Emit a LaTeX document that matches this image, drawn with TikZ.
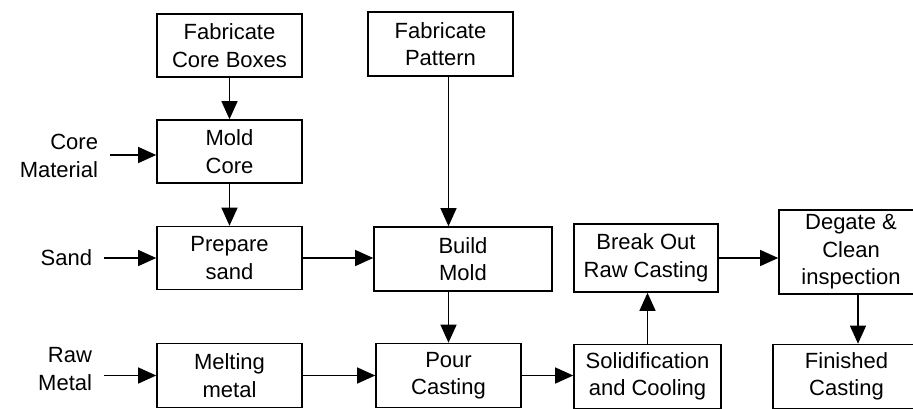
\documentclass[tikz,border=0pt]{standalone}
\usepackage{fontspec}
\setmainfont{Liberation Sans}
\usetikzlibrary{arrows.meta,positioning}
\tikzstyle{box}=[draw,line width=1.6pt,align=center,inner sep=0pt,
  minimum width=145pt,minimum height=63pt,font=\fontsize{22}{27.5}\selectfont]
\tikzstyle{input}=[align=right,inner sep=0pt,outer xsep=12pt,
  font=\fontsize{22}{27.5}\selectfont]
\tikzstyle{flow}=[->,line width=1.2pt]

\begin{document}
\begin{tikzpicture}[x=1pt,y=-1pt,>={Triangle[length=18pt,width=16pt]}]
  \clip (0,0) rectangle (913,408);

  % left column
  \node[box]                      (fcb) at (229.5,45.5) {Fabricate\\Core Boxes};
  \node[box]                      (mc)  at (229.5,151.5) {Mold\\Core};
  \node[box]                      (ps)  at (229.5,258)  {Prepare\\sand};
  \node[box, minimum height=64pt] (mm)  at (229.5,375.5) {Melting\\metal};

  % inputs
  \node[input, anchor=east] (cmat)  at (110,156) {Core\\Material};
  \node[input, anchor=east] (sand)  at (104,258) {Sand};
  \node[input, anchor=east] (rawm)  at (104,369) {Raw\\Metal};

  % mold and casting
  \node[box, minimum height=64pt]                    (fp) at (440.5,44)  {Fabricate\\Pattern};
  \node[box, minimum width=178pt, minimum height=64pt] (bm) at (463,259) {Build\\Mold};
  \node[box, minimum height=64pt]                    (pc) at (448.5,375.5) {Pour\\Casting};
  \node[box, minimum width=147pt, minimum height=64pt] (sc) at (647.5,376.5) {Solidification\\and Cooling};
  \node[box, minimum width=144pt, minimum height=68pt] (bo) at (646,258) {Break Out\\Raw Casting};
  \node[box, minimum width=144pt, minimum height=84pt] (dc) at (851,252) {Degate \&\\Clean\\inspection};
  \node[box, minimum width=147pt, minimum height=64pt] (fc) at (846.5,376.5) {Finished\\Casting};

  \draw[flow] (fcb) -- (mc);
  \draw[flow] (mc) -- (ps);
  \draw[flow] (cmat.east |- 0,155) -- (mc.west |- 0,155);
  \draw[flow] (sand) -- (ps);
  \draw[flow] (rawm.east |- mm.west) -- (mm.west);
  \draw[flow] (ps.east) -- (ps.east -| bm.west);
  \draw[flow] (fp.south -| pc.north) -- (bm.north -| pc.north);
  \draw[flow] (bm.south -| pc.north) -- (pc.north);
  \draw[flow] (mm) -- (pc);
  \draw[flow] (pc.east) -- (pc.east -| sc.west);
  \draw[flow] (sc.north) -- (sc.north |- bo.south);
  \draw[flow] (bo.east) -- (bo.east -| dc.west);
  \draw[flow] ([xshift=7pt]dc.south) -- ([xshift=7pt]dc.south |- fc.north);
\end{tikzpicture}
\end{document}
